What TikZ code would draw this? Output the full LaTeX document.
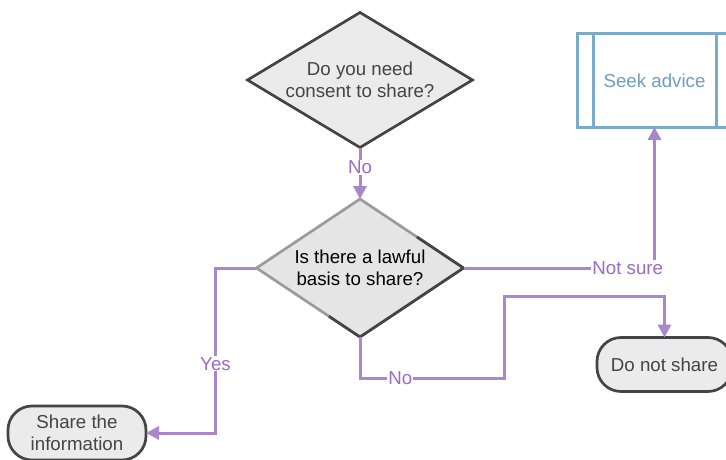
\documentclass[tikz,border=0pt]{standalone}
\usepackage{fontspec}
\setmainfont{Liberation Sans}
\usetikzlibrary{shapes.geometric,arrows.meta,calc}
\definecolor{flowpurple}{HTML}{A887CC}
\definecolor{labelpurple}{HTML}{9A6BC6}
\definecolor{darkline}{HTML}{444444}
\definecolor{lightline}{HTML}{9C9C9C}
\definecolor{boxfill}{HTML}{EBEBEB}
\definecolor{lawfill}{HTML}{E5E5E5}
\definecolor{adviceblue}{HTML}{7AABCB}
\definecolor{advicetext}{HTML}{6C9EC2}

\begin{document}
\begin{tikzpicture}[x=1pt,y=-1pt,
  txt/.style={font=\fontsize{18.7}{22}\selectfont, align=center},
  question/.style={txt, diamond, draw=darkline, line width=2.7pt, fill=boxfill, text=darkline, inner sep=0pt, outer sep=0pt},
  endbox/.style={txt, rectangle, rounded corners=24pt, draw=darkline, line width=2.7pt, fill=boxfill, text=darkline, minimum width=135pt, minimum height=54pt, outer sep=0pt},
  flow/.style={draw=flowpurple, line width=3pt, -{Triangle[length=13pt,width=13pt]}},
  answer/.style={txt, fill=white, text=labelpurple, inner sep=1pt}]
\useasboundingbox (0,0) rectangle (726,460);

\node[question, minimum width=225pt, minimum height=135pt, aspect=1.67] (need) at (360,80) {Do you need\\consent to share?};
\node[question, draw=lightline, fill=lawfill, text=black, minimum width=207pt, minimum height=138pt, aspect=1.5] (law) at (360,268) {Is there a lawful\\basis to share?};
\draw[darkline, line width=2.7pt, line join=round] ($(law.north)!0.55!(law.east)$) -- (law.east) -- (law.south) -- ($(law.south)!0.3!(law.west)$);

\node[txt, draw=adviceblue, line width=3pt, fill=white, text=advicetext, minimum width=155pt, minimum height=93pt, outer sep=0pt] (seek) at (654.5,80.5) {Seek advice};
\draw[adviceblue, line width=3pt] ([xshift=16pt]seek.north west) -- ([xshift=16pt]seek.south west);
\draw[adviceblue, line width=3pt] ([xshift=-16pt]seek.north east) -- ([xshift=-16pt]seek.south east);

\node[endbox] (dont) at (664.5,364.5) {Do not share};
\node[endbox, minimum width=138pt] (share) at (77,433) {Share the\\information};

\draw[flow] (need.south) -- node[answer, pos=0.38]{No} (law.north);
\draw[flow] (law.west) -- ++(-41,0) |- node[answer, pos=0.29]{Yes} (share.east);
\draw[flow] (law.east) -| node[answer, pos=0.43]{Not sure} (seek.south);
\draw[flow] (law.south) -- ++(0,41) -| node[answer, pos=0.14]{No} ++(144,-82) -| (dont.north);

\end{tikzpicture}
\end{document}
